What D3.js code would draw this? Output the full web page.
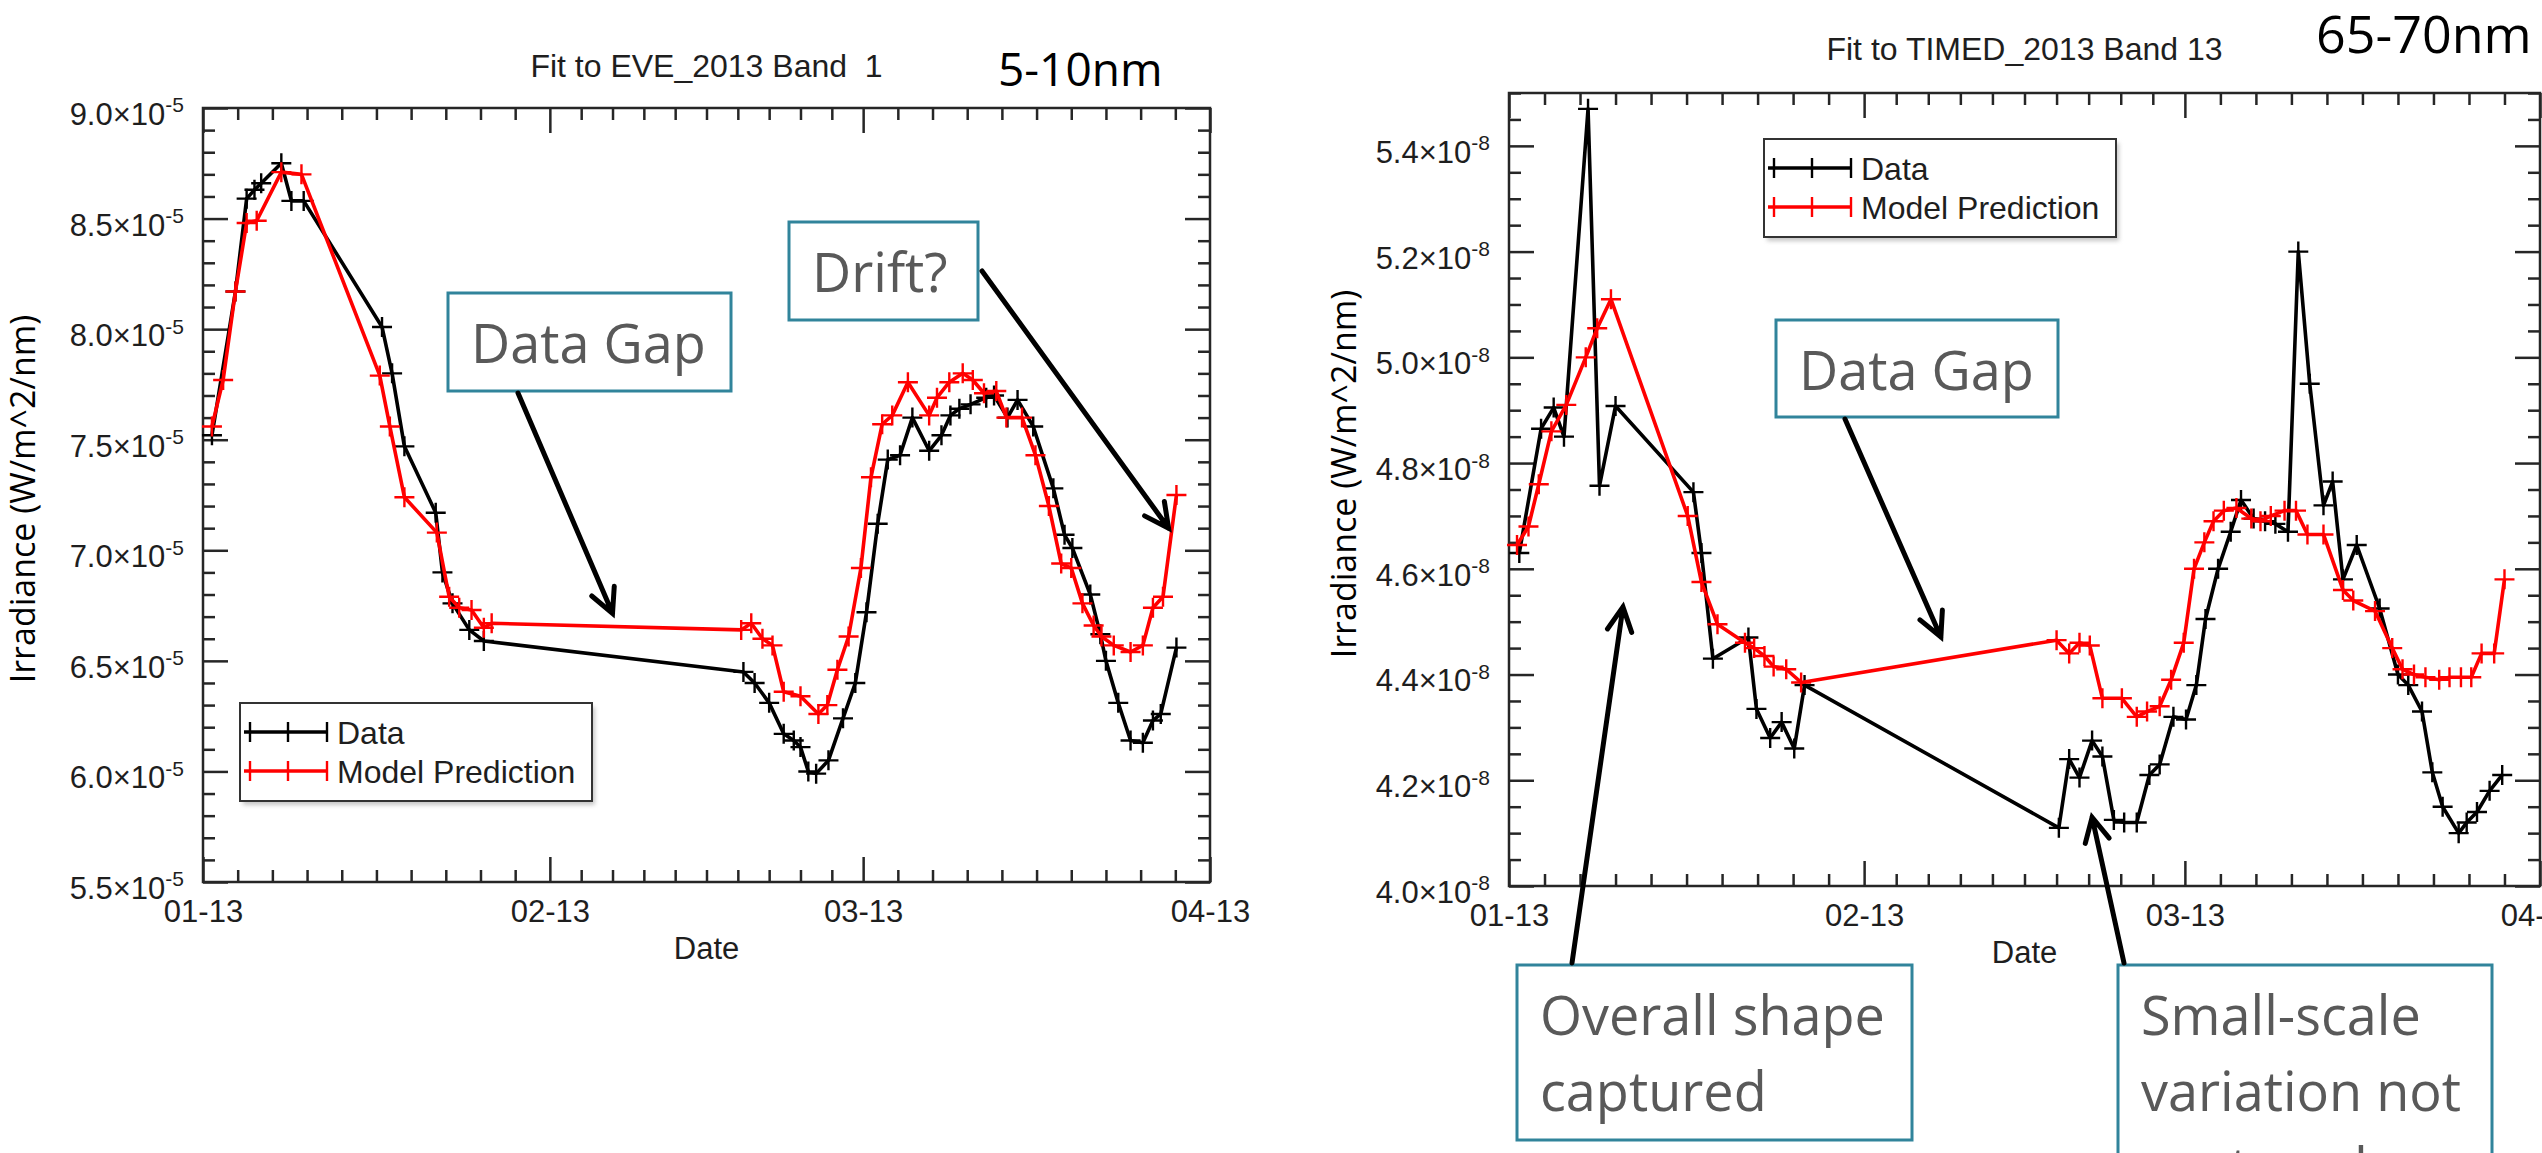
<!DOCTYPE html>
<meta charset="utf-8">
<style>
body { margin: 0; background: #fff; overflow: hidden; }
svg { display: block; }
text { font-family: "Liberation Sans", Arial, sans-serif; fill: #1e1e1e; }
.frame { fill: none; stroke: #262626; stroke-width: 2.5px; }
.axis path.domain { display: none; }
.axis line { stroke: #262626; stroke-width: 2.5px; }
.axis text { font-family: "Liberation Sans", Arial, sans-serif; font-size: 31px; fill: #1e1e1e; }
.title { font-size: 32px; white-space: pre; }
.ylabel { font-family: "Open Sans", sans-serif; font-size: 34px; fill: #000; }
.line { fill: none; stroke-width: 3.6px; stroke-linejoin: round; }
.mark { fill: none; stroke-width: 2.4px; }
.legend-box { fill: #fff; stroke: #333; stroke-width: 2px; }
.legend text { font-size: 32px; }
.note rect { fill: #fff; stroke: #31849b; stroke-width: 3px; }
.note text { font-family: "Open Sans", sans-serif; font-size: 54px; fill: #595959; }
.arrow { fill: none; stroke: #000; stroke-width: 5px; stroke-linecap: round; stroke-linejoin: miter; }
.band { font-family: "Open Sans", sans-serif; fill: #000; }
</style>
<svg width="2542" height="1153"></svg>
<script src="https://d3js.org/d3.v7.min.js"></script>
<script>

// month starts shown on the Date axis
var monthStarts = ["2013-01-01", "2013-02-01", "2013-03-01", "2013-04-01"];

// EVE_2013 band 1 (5-10nm): days since 2013-01-01, irradiance in units of 1e-5 W/m^2/nm
var eveDataDays = [0.8, 2.9, 3.9, 4.6, 5.2, 7.0, 7.9, 9.0, 16.0, 16.9, 18.0, 20.8, 21.4, 22.3, 23.8, 25.1,
    48.3, 49.3, 50.6, 51.9, 52.8, 53.4, 54.1, 54.8, 55.9, 57.2, 58.3, 59.3, 60.3, 61.2, 62.3, 63.4,
    64.9, 66.0, 66.8, 67.6, 68.6, 70.0, 70.7, 71.9, 72.8, 74.2, 76.0, 77.0, 77.7, 79.3, 80.2, 80.7,
    81.8, 82.9, 84.0, 84.9, 85.6, 87.0];
var eveDataVals = [7.52, 8.17, 8.59, 8.63, 8.66, 8.75, 8.58, 8.58, 8.01, 7.80, 7.47, 7.17, 6.90, 6.76, 6.64, 6.59,
    6.45, 6.40, 6.31, 6.17, 6.14, 6.11, 6.00, 5.99, 6.05, 6.24, 6.40, 6.72, 7.12, 7.41, 7.43, 7.60,
    7.45, 7.52, 7.61, 7.64, 7.66, 7.69, 7.70, 7.60, 7.68, 7.56, 7.28, 7.07, 7.01, 6.80, 6.62, 6.50,
    6.31, 6.14, 6.13, 6.23, 6.26, 6.56];
var eveModelDays = [0.8, 1.8, 2.9, 3.9, 4.8, 7.0, 8.8, 15.8, 16.7, 18.0, 20.9, 22.0, 22.9, 24.0, 25.1, 25.8,
    48.1, 49.0, 50.0, 50.9, 51.9, 53.4, 55.0, 55.8, 56.7, 57.7, 58.8, 59.7, 60.7, 61.6, 63.0, 64.9,
    65.6, 66.7, 67.9, 68.8, 69.8, 70.9, 71.8, 73.2, 74.4, 75.6, 76.7, 77.6, 78.6, 79.6, 80.3, 81.4,
    82.9, 84.0, 84.9, 85.8, 87.0];
var eveModelVals = [7.56, 7.77, 8.17, 8.48, 8.49, 8.71, 8.70, 7.79, 7.56, 7.24, 7.08, 6.79, 6.74, 6.73, 6.65, 6.67,
    6.64, 6.67, 6.60, 6.57, 6.36, 6.34, 6.26, 6.30, 6.46, 6.61, 6.92, 7.33, 7.57, 7.61, 7.76, 7.61,
    7.69, 7.76, 7.80, 7.77, 7.71, 7.72, 7.60, 7.60, 7.43, 7.20, 6.94, 6.92, 6.76, 6.66, 6.61, 6.57,
    6.54, 6.57, 6.74, 6.79, 7.25];
var eveYTicks = [5.5, 6.0, 6.5, 7.0, 7.5, 8.0, 8.5, 9.0];

// TIMED_2013 band 13 (65-70nm): days since 2013-01-01, irradiance in units of 1e-8 W/m^2/nm
var timedDataDays = [0.9, 2.8, 3.9, 4.8, 6.9, 7.9, 9.3, 16.1, 16.8, 17.8, 20.9, 21.6, 22.8, 23.8, 24.9, 25.8,
    48.0, 48.9, 49.8, 50.9, 51.8, 52.8, 53.7, 54.8, 55.9, 56.8, 58.0, 59.1, 60.0, 60.8, 61.9, 63.0,
    63.9, 65.0, 66.0, 66.9, 68.0, 68.9, 69.9, 71.1, 71.9, 72.8, 74.0, 76.0, 77.6, 78.5, 79.7, 80.6,
    81.5, 82.9, 83.6, 84.5, 85.6, 86.7];
var timedDataVals = [4.63, 4.865, 4.905, 4.85, 5.47, 4.757, 4.908, 4.745, 4.63, 4.43, 4.47, 4.335, 4.28, 4.31, 4.26, 4.38,
    4.11, 4.24, 4.205, 4.275, 4.245, 4.125, 4.12, 4.12, 4.21, 4.23, 4.32, 4.315, 4.38, 4.505, 4.60, 4.67,
    4.73, 4.695, 4.69, 4.685, 4.67, 5.20, 4.95, 4.72, 4.765, 4.58, 4.645, 4.525, 4.40, 4.38, 4.33, 4.215,
    4.15, 4.10, 4.12, 4.14, 4.18, 4.21];
var timedModelDays = [0.7, 1.7, 2.6, 3.7, 5.0, 6.7, 7.7, 8.9, 15.6, 16.8, 18.2, 20.6, 21.4, 22.3, 23.1, 24.2, 25.5,
    47.8, 48.9, 49.8, 50.7, 51.8, 53.5, 54.8, 55.7, 56.8, 57.8, 58.9, 59.8, 60.7, 61.5, 62.4, 63.5,
    64.8, 65.6, 66.5, 67.7, 68.7, 69.7, 71.1, 72.8, 73.7, 75.6, 77.1, 78.0, 79.0, 80.0, 81.2, 82.1,
    83.1, 84.0, 84.9, 86.0, 86.9];
var timedModelVals = [4.645, 4.68, 4.76, 4.86, 4.91, 5.00, 5.055, 5.11, 4.70, 4.575, 4.495, 4.46, 4.45, 4.435, 4.415, 4.41, 4.385,
    4.465, 4.44, 4.46, 4.455, 4.355, 4.355, 4.32, 4.33, 4.34, 4.39, 4.46, 4.60, 4.65, 4.69, 4.71, 4.715,
    4.695, 4.69, 4.70, 4.71, 4.71, 4.665, 4.665, 4.56, 4.54, 4.52, 4.45, 4.41, 4.40, 4.395, 4.39, 4.395,
    4.395, 4.395, 4.44, 4.44, 4.58];
var timedYTicks = [4.0, 4.2, 4.4, 4.6, 4.8, 5.0, 5.2, 5.4];

var svg = d3.select("svg");
var parseDay = d3.utcParse("%Y-%m-%d");
var t0 = parseDay(monthStarts[0]);

function dayToDate(d) { return new Date(t0.getTime() + d * 864e5); }

function series(days, vals, unit) {
    return days.map(function(d, i) { return {date: dayToDate(d), v: vals[i] * unit}; });
}

function drawPanel(p) {
    var g = svg.append("g");
    var months = monthStarts.map(parseDay);

    var x = d3.scaleUtc().domain([months[0], months[months.length - 1]]).range([p.left, p.right]);
    var y = d3.scaleLinear().domain([p.yMin * p.unit, p.yMax * p.unit]).range([p.bottom, p.top]);

    // ten intervals per month on the date axis
    var minorX = [];
    for (var i = 0; i < months.length - 1; i++) {
        for (var k = 1; k < 10; k++) {
            minorX.push(new Date(+months[i] + (months[i + 1] - months[i]) * k / 10));
        }
    }
    var majorY = p.yTicks.map(function(v) { return v * p.unit; });
    var nMinor = Math.round((p.yMax - p.yMin) / p.minorStep);
    var minorY = d3.range(0, nMinor + 1).map(function(i) { return p.yMin + i * p.minorStep; })
        .filter(function(v) { return !p.yTicks.some(function(t) { return Math.abs(t - v) < 1e-6; }); })
        .map(function(v) { return v * p.unit; });

    g.append("g").attr("class", "axis").attr("transform", "translate(0," + p.bottom + ")")
        .call(d3.axisBottom(x).tickValues(months).tickSize(-25).tickPadding(18).tickFormat(d3.utcFormat("%m-%y")));
    g.append("g").attr("class", "axis").attr("transform", "translate(0," + p.bottom + ")")
        .call(d3.axisBottom(x).tickValues(minorX).tickSize(-12).tickFormat(""));
    g.append("g").attr("class", "axis").attr("transform", "translate(0," + p.top + ")")
        .call(d3.axisTop(x).tickValues(months).tickSize(-25).tickFormat(""));
    g.append("g").attr("class", "axis").attr("transform", "translate(0," + p.top + ")")
        .call(d3.axisTop(x).tickValues(minorX).tickSize(-12).tickFormat(""));

    var yl = g.append("g").attr("class", "axis").attr("transform", "translate(" + p.left + ",0)")
        .call(d3.axisLeft(y).tickValues(majorY).tickSize(-25).tickPadding(19)
            .tickFormat(function(d) { return (d / p.unit).toFixed(1) + "\u00d710"; }));
    yl.selectAll(".tick text").attr("dy", "0.53em")
        .append("tspan").attr("font-size", 21).attr("dy", -12.5).text("-" + p.exp);
    g.append("g").attr("class", "axis").attr("transform", "translate(" + p.left + ",0)")
        .call(d3.axisLeft(y).tickValues(minorY).tickSize(-12).tickFormat(""));
    g.append("g").attr("class", "axis").attr("transform", "translate(" + p.right + ",0)")
        .call(d3.axisRight(y).tickValues(majorY).tickSize(-25).tickFormat(""));
    g.append("g").attr("class", "axis").attr("transform", "translate(" + p.right + ",0)")
        .call(d3.axisRight(y).tickValues(minorY).tickSize(-12).tickFormat(""));

    g.append("rect").attr("class", "frame")
        .attr("x", p.left).attr("y", p.top)
        .attr("width", p.right - p.left).attr("height", p.bottom - p.top);

    var line = d3.line()
        .x(function(d) { return x(d.date); })
        .y(function(d) { return y(d.v); });

    [{data: p.data, color: "#000"}, {data: p.model, color: "#ff0000"}].forEach(function(s) {
        g.append("path").datum(s.data).attr("class", "line").attr("stroke", s.color).attr("d", line);
        g.selectAll(null).data(s.data).enter().append("path")
            .attr("class", "mark").attr("stroke", s.color)
            .attr("transform", function(d) { return "translate(" + x(d.date) + "," + y(d.v) + ")"; })
            .attr("d", "M-10,0H10M0,-10V10");
    });

    var cx = (p.left + p.right) / 2;
    g.append("text").attr("class", "title").attr("x", cx).attr("y", p.titleY)
        .attr("text-anchor", "middle").text(p.title);
    g.append("text").attr("x", cx).attr("y", p.bottom + 77).attr("text-anchor", "middle")
        .style("font-size", "31px").text("Date");
    g.append("text").attr("class", "ylabel").attr("text-anchor", "middle")
        .attr("transform", "translate(" + p.yLabelX + "," + p.yLabelY + ") rotate(-90)")
        .text("Irradiance (W/m^2/nm)");

    // legend
    var lg = g.append("g").attr("class", "legend").attr("transform", "translate(" + p.legendX + "," + p.legendY + ")");
    lg.append("rect").attr("x", 3).attr("y", 4).attr("width", 352).attr("height", 98)
        .attr("fill", "#999").attr("opacity", 0.55).attr("filter", "url(#soft)");
    lg.append("rect").attr("class", "legend-box").attr("width", 352).attr("height", 98);
    [{label: "Data", color: "#000", y: 29}, {label: "Model Prediction", color: "#ff0000", y: 68}].forEach(function(e) {
        lg.append("line").attr("x1", 4).attr("x2", 88).attr("y1", e.y).attr("y2", e.y)
            .attr("stroke", e.color).attr("stroke-width", 3.4);
        [10, 48, 87].forEach(function(mx) {
            lg.append("path").attr("class", "mark").attr("stroke", e.color)
                .attr("transform", "translate(" + mx + "," + e.y + ")").attr("d", "M0,-10V10");
        });
        lg.append("text").attr("x", 97).attr("y", e.y + 12).text(e.label);
    });

    return {x: x, y: y, unit: p.unit};
}

svg.append("defs").append("filter").attr("id", "soft")
    .append("feGaussianBlur").attr("stdDeviation", 2);

var eve = drawPanel({
    left: 203, right: 1210, top: 108, bottom: 882,
    yMin: 5.5, yMax: 9.0, minorStep: 0.1, yTicks: eveYTicks, unit: 1e-5, exp: 5,
    data: series(eveDataDays, eveDataVals, 1e-5), model: series(eveModelDays, eveModelVals, 1e-5),
    title: "Fit to EVE_2013 Band  1", titleY: 77,
    yLabelX: 35, yLabelY: 499, legendX: 240, legendY: 703
});

var timed = drawPanel({
    left: 1509, right: 2540, top: 93, bottom: 886,
    yMin: 4.0, yMax: 5.5, minorStep: 0.05, yTicks: timedYTicks, unit: 1e-8, exp: 8,
    data: series(timedDataDays, timedDataVals, 1e-8), model: series(timedModelDays, timedModelVals, 1e-8),
    title: "Fit to TIMED_2013 Band 13", titleY: 60,
    yLabelX: 1356, yLabelY: 474, legendX: 1764, legendY: 139
});

// wavelength ranges
svg.append("text").attr("class", "band").attr("x", 998).attr("y", 86).style("font-size", "46px").text("5-10nm");
svg.append("text").attr("class", "band").attr("x", 2316).attr("y", 53).style("font-size", "52px").text("65-70nm");

// callout boxes
function note(x, y, w, h, lines) {
    var n = svg.append("g").attr("class", "note");
    n.append("rect").attr("x", x).attr("y", y).attr("width", w).attr("height", h);
    lines.forEach(function(t, i) {
        n.append("text").attr("x", x + 23).attr("y", y + 70 + i * 76).text(t);
    });
}

function arrow(x1, y1, panel, day, val) {
    var x2 = panel.x(dayToDate(day)), y2 = panel.y(val * panel.unit);
    var a = Math.atan2(y2 - y1, x2 - x1), len = 27, spread = 0.47;
    var path = d3.path();
    path.moveTo(x1, y1);
    path.lineTo(x2, y2);
    path.moveTo(x2 - len * Math.cos(a - spread), y2 - len * Math.sin(a - spread));
    path.lineTo(x2, y2);
    path.lineTo(x2 - len * Math.cos(a + spread), y2 - len * Math.sin(a + spread));
    svg.append("path").attr("class", "arrow").attr("d", path.toString());
}

note(448, 293, 283, 98, ["Data Gap"]);
arrow(518, 393, eve, 36.6, 6.715);
note(789, 222, 189, 98, ["Drift?"]);
arrow(982, 271, eve, 86.3, 7.10);

note(1776, 320, 282, 97, ["Data Gap"]);
arrow(1845, 419, timed, 37.7, 4.471);
note(1517, 965, 395, 175, ["Overall shape", "captured"]);
arrow(1572, 963, timed, 9.95, 4.528);
note(2118, 965, 374, 260, ["Small-scale", "variation not", "captured"]);
arrow(2124, 963, timed, 50.9, 4.13);

</script>
